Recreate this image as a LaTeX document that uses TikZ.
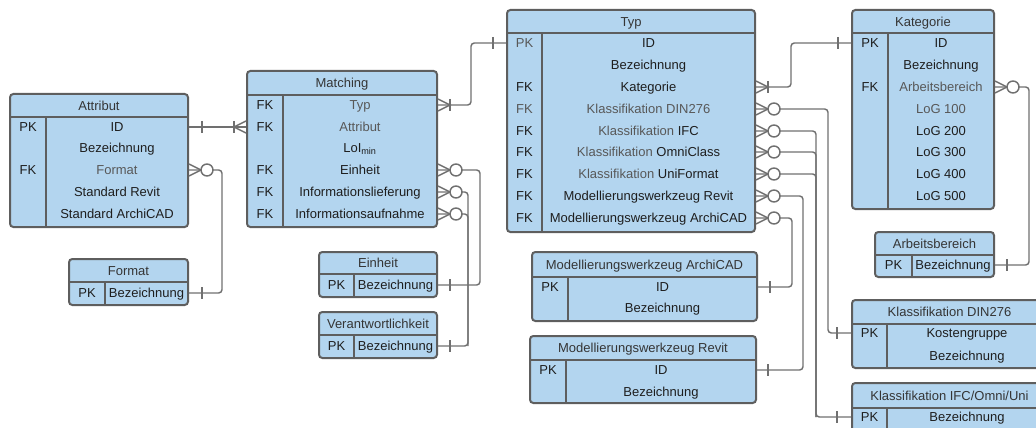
\documentclass[tikz,border=0pt]{standalone}
\usepackage{fontspec}
\setmainfont{Liberation Sans}
\usetikzlibrary{fit,calc}
\definecolor{efill}{RGB}{179,213,239}
\definecolor{eborder}{RGB}{94,94,94}
\definecolor{econn}{RGB}{112,112,112}
\definecolor{tdark}{RGB}{30,30,30}
\definecolor{tgray}{RGB}{88,88,88}
\tikzset{
  ebox/.style={draw=eborder, fill=efill, line width=1.5pt, rounded corners=2.5pt, inner sep=0pt},
  eline/.style={draw=eborder, line width=1.5pt},
  etxt/.style={font=\fontsize{9.75}{11}\selectfont, text=tdark, inner sep=0pt, text height=7pt, text depth=0pt},
  egray/.style={etxt, text=tgray},
  etitle/.style={etxt, text=tdark!90!white},
  conn/.style={draw=econn, line width=1.1pt},
  route/.style={conn, rounded corners=2.5pt},
}
% entity: name, x1, y1, x2, y2, header line y, divider x, title
\newcommand\entity[8]{%
  \node[ebox, fit={(#2,#3) (#4,#5)}] (#1) {};
  \draw[eline] (#2,#6) -- (#4,#6) (#7,#6) -- (#7,#5);
  \node[etitle] (#1-t) at ({(#2+#4)/2},{(#3+#6)/2}) {#8};
}
\newcommand\erbar[2]{\draw[conn] ($#1+(#2,-6)$) -- ($#1+(#2,6)$);}
\newcommand\ercrow[2]{\draw[conn] ($#1+(0,-6)$) -- ($#1+(#2,0)$) -- ($#1+(0,6)$);}
\newcommand\ercirc[2]{\draw[conn,fill=white] ($#1+(#2,0)$) circle (4.5pt);}
\newcommand\erzm[2]{\ercrow{#1}{12*#2}\ercirc{#1}{18*#2}}
\newcommand\erom[2]{\ercrow{#1}{12*#2}\erbar{#1}{12*#2}}
\begin{document}
\begin{tikzpicture}[x=0.75pt,y=-0.75pt]
\useasboundingbox (0,0) rectangle (1036,428);
\clip (0,0) rectangle (1036,428);

% ---------- entities ----------
\entity{attr}{10}{94}{188}{227}{117}{46}{Attribut}
\node[etxt] (attr-k1) at (28,127) {PK};
\node[etxt] (attr-id) at (117,127) {ID};
\node[etxt] (attr-bez) at (117,148) {Bezeichnung};
\node[etxt] (attr-k3) at (28,170) {FK};
\node[egray] (attr-fmt) at (117,170) {Format};
\node[etxt] (attr-rev) at (117,192) {Standard Revit};
\node[etxt] (attr-arc) at (117,214) {Standard ArchiCAD};

\entity{match}{247}{71}{437}{227}{95}{283}{Matching}
\node[etxt] (match-k1) at (265,105) {FK};
\node[egray] (match-typ) at (360,105) {Typ};
\node[etxt] (match-k2) at (265,127) {FK};
\node[egray] (match-attr) at (360,127) {Attribut};
\node[etxt] (match-loi) at (360,148) {LoI\textsubscript{min}};
\node[etxt] (match-k4) at (265,170) {FK};
\node[etxt] (match-einh) at (360,170) {Einheit};
\node[etxt] (match-k5) at (265,192) {FK};
\node[etxt] (match-lief) at (360,192) {Informationslieferung};
\node[etxt] (match-k6) at (265,214) {FK};
\node[etxt] (match-auf) at (360,214) {Informationsaufnahme};

\entity{typ}{507}{10}{755}{232}{33}{542}{Typ}
\node[egray] (typ-k1) at (524.5,43) {PK};
\node[etxt] (typ-id) at (648.5,43) {ID};
\node[etxt] (typ-bez) at (648.5,65) {Bezeichnung};
\node[etxt] (typ-k3) at (524.5,87) {FK};
\node[etxt] (typ-kat) at (648.5,87) {Kategorie};
\node[egray] (typ-k4) at (524.5,109) {FK};
\node[egray] (typ-din) at (648.5,109) {Klassifikation DIN276};
\node[etxt] (typ-k5) at (524.5,131) {FK};
\node[etxt] (typ-ifc) at (648.5,131) {\textcolor{tgray}{Klassifikation} IFC};
\node[etxt] (typ-k6) at (524.5,152) {FK};
\node[etxt] (typ-omni) at (648.5,152) {\textcolor{tgray}{Klassifikation} OmniClass};
\node[etxt] (typ-k7) at (524.5,174) {FK};
\node[etxt] (typ-uni) at (648.5,174) {\textcolor{tgray}{Klassifikation} UniFormat};
\node[etxt] (typ-k8) at (524.5,196) {FK};
\node[etxt] (typ-rev) at (648.5,196) {Modellierungswerkzeug Revit};
\node[etxt] (typ-k9) at (524.5,218) {FK};
\node[etxt] (typ-arc) at (648.5,218) {Modellierungswerkzeug ArchiCAD};

\entity{kat}{852}{10}{994}{209}{33}{888}{Kategorie}
\node[etxt] (kat-k1) at (870,43) {PK};
\node[etxt] (kat-id) at (941,43) {ID};
\node[etxt] (kat-bez) at (941,65) {Bezeichnung};
\node[etxt] (kat-k3) at (870,87) {FK};
\node[egray] (kat-arb) at (941,87) {Arbeitsbereich};
\node[egray] (kat-l1) at (941,109) {LoG 100};
\node[etxt] (kat-l2) at (941,131) {LoG 200};
\node[etxt] (kat-l3) at (941,152) {LoG 300};
\node[etxt] (kat-l4) at (941,174) {LoG 400};
\node[etxt] (kat-l5) at (941,196) {LoG 500};

\entity{fmt}{69}{259}{188}{305}{282}{105}{Format}
\node[etxt] (fmt-k1) at (87,293) {PK};
\node[etxt] (fmt-bez) at (146.5,293) {Bezeichnung};

\entity{einh}{319}{252}{437}{297}{274}{354}{Einheit}
\node[etxt] (einh-k1) at (336.5,285) {PK};
\node[etxt] (einh-bez) at (395.5,285) {Bezeichnung};

\entity{ver}{319}{312}{437}{358}{335}{354}{Verantwortlichkeit}
\node[etxt] (ver-k1) at (336.5,346) {PK};
\node[etxt] (ver-bez) at (395.5,346) {Bezeichnung};

\entity{mwa}{532}{252}{757}{321}{277}{568}{Modellierungswerkzeug ArchiCAD}
\node[etxt] (mwa-k1) at (550,287) {PK};
\node[etxt] (mwa-id) at (662.5,287) {ID};
\node[etxt] (mwa-bez) at (662.5,308) {Bezeichnung};

\entity{mwr}{530}{336}{756}{403}{360}{566}{Modellierungswerkzeug Revit}
\node[etxt] (mwr-k1) at (548,370) {PK};
\node[etxt] (mwr-id) at (661,370) {ID};
\node[etxt] (mwr-bez) at (661,392) {Bezeichnung};

\entity{arb}{875}{232}{994}{277}{255}{912}{Arbeitsbereich}
\node[etxt] (arb-k1) at (893.5,265) {PK};
\node[etxt] (arb-bez) at (953,265) {Bezeichnung};

\entity{din}{852}{300}{1047}{368}{324}{887}{Klassifikation DIN276}
\node[etxt] (din-k1) at (869.5,333) {PK};
\node[etxt] (din-kg) at (967,333) {Kostengruppe};
\node[etxt] (din-bez) at (967,356) {Bezeichnung};

\entity{ifc}{852}{383}{1047}{445}{408}{887}{Klassifikation IFC/Omni/Uni}
\node[etxt] (ifc-k1) at (869.5,417) {PK};
\node[etxt] (ifc-bez) at (967,417) {Bezeichnung};

% ---------- route columns ----------
\coordinate (rfmt) at (222,0);
\coordinate (rtyp) at (471,0);
\coordinate (reinh) at (480,0);
\coordinate (rver) at (468,0);
\coordinate (rkat) at (791,0);
\coordinate (rdin) at (828,0);
\coordinate (rifc) at (816,0);
\coordinate (rrev) at (803,0);
\coordinate (rarc) at (792,0);
\coordinate (rarb) at (1029,0);

% ---------- connectors ----------
\draw[conn] (attr.east|-attr-id) -- (match.west|-match-attr);
\draw[route] (attr.east|-attr-fmt) -| (rfmt|-fmt-bez) -- (fmt.east|-fmt-bez);
\draw[route] (match.east|-match-typ) -| (rtyp|-typ-id) -- (typ.west|-typ-id);
\draw[route] (match.east|-match-einh) -| (reinh|-einh-bez) -- (einh.east|-einh-bez);
\draw[route] (match.east|-match-lief) -| (rver|-ver-bez) -- (ver.east|-ver-bez);
\draw[route] (match.east|-match-auf) -| (rver|-ver-bez);
\draw[route] (typ.east|-typ-kat) -| (rkat|-kat-id) -- (kat.west|-kat-id);
\draw[route] (typ.east|-typ-din) -| (rdin|-din-kg) -- (din.west|-din-kg);
\draw[route] (typ.east|-typ-ifc) -| (rifc|-ifc-bez) -- (ifc.west|-ifc-bez);
\draw[route] (typ.east|-typ-omni) -| (rifc|-ifc-bez);
\draw[route] (typ.east|-typ-uni) -| (rifc|-ifc-bez);
\draw[route] (typ.east|-typ-rev) -| (rrev|-mwr-id) -- (mwr.east|-mwr-id);
\draw[route] (typ.east|-typ-arc) -| (rarc|-mwa-id) -- (mwa.east|-mwa-id);
\draw[route] (kat.east|-kat-arb) -| (rarb|-arb-bez) -- (arb.east|-arb-bez);

% ---------- markers ----------
\erbar{(attr.east|-attr-id)}{13}
\erom{(match.west|-match-attr)}{-1}
\erzm{(attr.east|-attr-fmt)}{1}
\erbar{(fmt.east|-fmt-bez)}{13}
\erom{(match.east|-match-typ)}{1}
\erbar{(typ.west|-typ-id)}{-13}
\erzm{(match.east|-match-einh)}{1}
\erzm{(match.east|-match-lief)}{1}
\erzm{(match.east|-match-auf)}{1}
\erbar{(einh.east|-einh-bez)}{12}
\erbar{(ver.east|-ver-bez)}{12}
\erom{(typ.east|-typ-kat)}{1}
\erbar{(kat.west|-kat-id)}{-13}
\erzm{(typ.east|-typ-din)}{1}
\erzm{(typ.east|-typ-ifc)}{1}
\erzm{(typ.east|-typ-omni)}{1}
\erzm{(typ.east|-typ-uni)}{1}
\erzm{(typ.east|-typ-rev)}{1}
\erzm{(typ.east|-typ-arc)}{1}
\erbar{(din.west|-din-kg)}{-14}
\erbar{(ifc.west|-ifc-bez)}{-14}
\erbar{(mwr.east|-mwr-id)}{11}
\erbar{(mwa.east|-mwa-id)}{12}
\erzm{(kat.east|-kat-arb)}{1}
\erbar{(arb.east|-arb-bez)}{12}
\end{tikzpicture}
\end{document}
